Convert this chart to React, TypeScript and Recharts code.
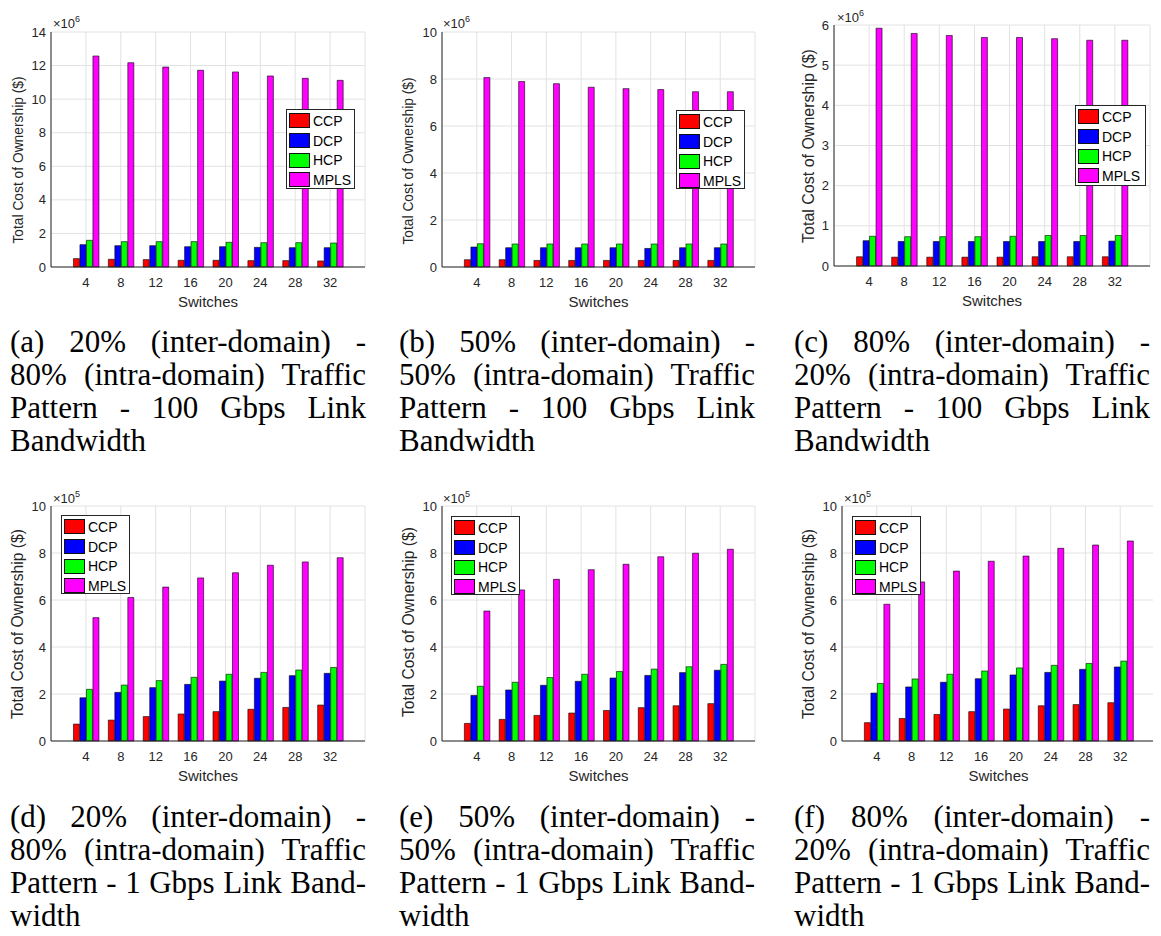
import React from 'react'
import { BarChart, Bar, XAxis, YAxis, CartesianGrid, Legend } from 'recharts'

// switches on the x axis, four placement strategies per group
const switches = ['4', '8', '12', '16', '20', '24', '28', '32']
const seriesNames = ['CCP', 'DCP', 'HCP', 'MPLS']
const seriesColors = ['#ff0000', '#0000ff', '#00ff00', '#ff00ff']

// top row, 100 Gbps, values in units of 10^6 $
const ccpA = [0.5, 0.46, 0.44, 0.4, 0.4, 0.38, 0.38, 0.36]
const dcpA = [1.33, 1.27, 1.27, 1.21, 1.21, 1.17, 1.15, 1.15]
const hcpA = [1.59, 1.51, 1.51, 1.51, 1.47, 1.45, 1.45, 1.43]
const mplsA = [12.57, 12.17, 11.91, 11.72, 11.62, 11.38, 11.24, 11.12]

const ccpB = [0.31, 0.31, 0.28, 0.28, 0.28, 0.28, 0.28, 0.28]
const dcpB = [0.85, 0.82, 0.82, 0.82, 0.82, 0.79, 0.82, 0.82]
const hcpB = [0.99, 0.98, 0.98, 0.98, 0.98, 0.98, 0.98, 0.98]
const mplsB = [8.06, 7.89, 7.8, 7.65, 7.59, 7.55, 7.46, 7.46]

const ccpC = [0.23, 0.22, 0.22, 0.22, 0.22, 0.23, 0.23, 0.23]
const dcpC = [0.63, 0.61, 0.61, 0.61, 0.61, 0.61, 0.61, 0.62]
const hcpC = [0.74, 0.73, 0.73, 0.73, 0.74, 0.76, 0.76, 0.76]
const mplsC = [5.92, 5.79, 5.74, 5.69, 5.69, 5.66, 5.62, 5.62]

// bottom row, 1 Gbps, values in units of 10^5 $
const ccpD = [0.72, 0.89, 1.04, 1.15, 1.25, 1.35, 1.43, 1.53]
const dcpD = [1.84, 2.07, 2.27, 2.41, 2.55, 2.67, 2.78, 2.88]
const hcpD = [2.2, 2.38, 2.57, 2.71, 2.84, 2.92, 3.02, 3.13]
const mplsD = [5.25, 6.11, 6.55, 6.94, 7.16, 7.48, 7.62, 7.8]

const ccpE = [0.75, 0.92, 1.09, 1.19, 1.3, 1.42, 1.5, 1.59]
const dcpE = [1.94, 2.17, 2.37, 2.54, 2.68, 2.79, 2.91, 3.01]
const hcpE = [2.33, 2.5, 2.7, 2.84, 2.96, 3.06, 3.16, 3.26]
const mplsE = [5.53, 6.43, 6.88, 7.29, 7.52, 7.84, 7.99, 8.16]

const ccpF = [0.78, 0.96, 1.13, 1.25, 1.36, 1.5, 1.55, 1.63]
const dcpF = [2.04, 2.3, 2.5, 2.65, 2.81, 2.92, 3.05, 3.15]
const hcpF = [2.45, 2.64, 2.84, 2.98, 3.11, 3.22, 3.3, 3.4]
const mplsF = [5.82, 6.77, 7.23, 7.65, 7.87, 8.2, 8.34, 8.51]

const ticks14 = [0, 2, 4, 6, 8, 10, 12, 14]
const ticks10 = [0, 2, 4, 6, 8, 10]
const ticks6 = [0, 1, 2, 3, 4, 5, 6]

const captionA = ['(a) 20% (inter-domain) -', '80% (intra-domain) Traffic', 'Pattern - 100 Gbps Link', 'Bandwidth']
const captionB = ['(b) 50% (inter-domain) -', '50% (intra-domain) Traffic', 'Pattern - 100 Gbps Link', 'Bandwidth']
const captionC = ['(c) 80% (inter-domain) -', '20% (intra-domain) Traffic', 'Pattern - 100 Gbps Link', 'Bandwidth']
const captionD = ['(d) 20% (inter-domain) -', '80% (intra-domain) Traffic', 'Pattern - 1 Gbps Link Band-', 'width']
const captionE = ['(e) 50% (inter-domain) -', '50% (intra-domain) Traffic', 'Pattern - 1 Gbps Link Band-', 'width']
const captionF = ['(f) 80% (inter-domain) -', '20% (intra-domain) Traffic', 'Pattern - 1 Gbps Link Band-', 'width']

const sans = '"Liberation Sans", Arial, Helvetica, sans-serif'
const serif = '"Liberation Serif", "Times New Roman", serif'
const ink = '#262626'

const panels = [
  { id: 'a', series: [ccpA, dcpA, hcpA, mplsA], yMax: 14, ticks: ticks14, exp: 6, caption: captionA,
    plot: { l: 51, r: 365, t: 32, b: 267 }, expAt: { x: 53, y: 17 }, ylab: { x: 19, y: 160, size: 13.8 },
    legend: { x: 286, y: 109, w: 69, h: 80 }, capX: 10, capY: 325 },
  { id: 'b', series: [ccpB, dcpB, hcpB, mplsB], yMax: 10, ticks: ticks10, exp: 6, caption: captionB,
    plot: { l: 442, r: 755, t: 32, b: 267 }, expAt: { x: 443, y: 17 }, ylab: { x: 409, y: 161, size: 13.8 },
    legend: { x: 676, y: 110, w: 69, h: 79 }, capX: 399, capY: 325 },
  { id: 'c', series: [ccpC, dcpC, hcpC, mplsC], yMax: 6, ticks: ticks6, exp: 6, caption: captionC,
    plot: { l: 834, r: 1150, t: 25, b: 266 }, expAt: { x: 837, y: 11 }, ylab: { x: 809, y: 146, size: 16 },
    legend: { x: 1075, y: 105, w: 71, h: 81 }, capX: 794, capY: 325 },
  { id: 'd', series: [ccpD, dcpD, hcpD, mplsD], yMax: 10, ticks: ticks10, exp: 5, caption: captionD,
    plot: { l: 51, r: 365, t: 506, b: 741 }, expAt: { x: 53, y: 492 }, ylab: { x: 18, y: 624, size: 15.7 },
    legend: { x: 61, y: 515, w: 69, h: 79 }, capX: 10, capY: 800 },
  { id: 'e', series: [ccpE, dcpE, hcpE, mplsE], yMax: 10, ticks: ticks10, exp: 5, caption: captionE,
    plot: { l: 442, r: 755, t: 506, b: 741 }, expAt: { x: 443, y: 492 }, ylab: { x: 409, y: 622, size: 15.7 },
    legend: { x: 451, y: 516, w: 69, h: 79 }, capX: 399, capY: 800 },
  { id: 'f', series: [ccpF, dcpF, hcpF, mplsF], yMax: 10, ticks: ticks10, exp: 5, caption: captionF,
    plot: { l: 842, r: 1155, t: 506, b: 741 }, expAt: { x: 844, y: 492 }, ylab: { x: 809, y: 624, size: 15.7 },
    legend: { x: 852, y: 516, w: 69, h: 79 }, capX: 794, capY: 800 },
]

function LegendBox({ w, h }: { w: number; h: number }) {
  return (
    <div style={{ width: w, height: h, boxSizing: 'border-box', border: `1px solid ${ink}`, background: '#fff', paddingTop: 1 }}>
      {seriesNames.map((n, k) => (
        <div key={n} style={{ height: 19.7, display: 'flex', alignItems: 'center' }}>
          <div style={{ width: 21, height: 15, marginLeft: 2, boxSizing: 'border-box', border: '1px solid #111', background: seriesColors[k] }} />
          <span style={{ marginLeft: 3, fontFamily: sans, fontSize: 14, color: '#000', lineHeight: '16px' }}>{n}</span>
        </div>
      ))}
    </div>
  )
}

function Panel({ p }: { p: any }) {
  const { l, r, t, b } = p.plot
  const plotW = r - l
  const plotH = b - t
  const chartLeft = l - 45
  const chartTop = t - 10
  const pad = plotW / 18
  const data = switches.map((s, i) => ({
    name: s,
    CCP: p.series[0][i],
    DCP: p.series[1][i],
    HCP: p.series[2][i],
    MPLS: p.series[3][i],
  }))
  const dom: [number, number] = [0, p.yMax]
  return (
    <>
      <div style={{ position: 'absolute', left: chartLeft, top: chartTop }}>
        <BarChart width={plotW + 55} height={plotH + 40} data={data}
          margin={{ top: 10, right: 10, bottom: 0, left: 15 }} barGap={0.5}>
          <CartesianGrid xAxisId="b" yAxisId="l" stroke="#e2e2e2" />
          <XAxis xAxisId="b" dataKey="name" height={30} padding={{ left: pad, right: pad }}
            tickLine={false} tickSize={0} tickMargin={11} stroke={ink}
            tick={{ fill: ink, fontSize: 13, fontFamily: sans }} />
          <XAxis xAxisId="bi" dataKey="name" height={0} padding={{ left: pad, right: pad }}
            mirror tick={false} tickSize={3} axisLine={false} stroke={ink} />
          <XAxis xAxisId="t" orientation="top" dataKey="name" height={0} padding={{ left: pad, right: pad }}
            mirror tick={false} tickSize={3} stroke={ink} />
          <YAxis yAxisId="l" type="number" domain={dom} ticks={p.ticks} width={30}
            tickLine={false} tickSize={0} tickMargin={5} stroke={ink}
            tick={{ fill: ink, fontSize: 13, fontFamily: sans }} />
          <YAxis yAxisId="li" type="number" domain={dom} ticks={p.ticks} width={0}
            mirror tick={false} tickSize={3} axisLine={false} stroke={ink} />
          <YAxis yAxisId="r" orientation="right" type="number" domain={dom} ticks={p.ticks} width={0}
            mirror tick={false} tickSize={3} stroke={ink} />
          {seriesNames.map((n, k) => (
            <Bar key={n} xAxisId="b" yAxisId="l" dataKey={n} name={n} fill={seriesColors[k]}
              stroke="#000" strokeWidth={0.6} barSize={6} isAnimationActive={false} />
          ))}
          <Legend layout="vertical" align="center" verticalAlign="middle"
            wrapperStyle={{ left: p.legend.x - chartLeft, top: p.legend.y - chartTop, width: p.legend.w, height: p.legend.h }}
            content={() => <LegendBox w={p.legend.w} h={p.legend.h} />} />
        </BarChart>
      </div>
      <div style={{ position: 'absolute', left: p.expAt.x, top: p.expAt.y, fontFamily: sans, fontSize: 13, color: ink, whiteSpace: 'nowrap', lineHeight: '13px' }}>
        ×10<span style={{ fontSize: 9, position: 'relative', top: -6 }}>{p.exp}</span>
      </div>
      <div style={{ position: 'absolute', left: p.ylab.x - 150, top: p.ylab.y - 10, width: 300, height: 20, lineHeight: '20px',
        textAlign: 'center', transform: 'rotate(-90deg)', fontFamily: sans, fontSize: p.ylab.size, color: ink, whiteSpace: 'nowrap' }}>
        Total Cost of Ownership ($)
      </div>
      <div style={{ position: 'absolute', left: (l + r) / 2 - 60, top: b + 26, width: 120, height: 18, lineHeight: '18px',
        textAlign: 'center', fontFamily: sans, fontSize: 15, color: ink }}>
        Switches
      </div>
      <div style={{ position: 'absolute', left: p.capX, top: p.capY, width: 356, fontFamily: serif, fontSize: 31, lineHeight: '33px', color: '#000' }}>
        {p.caption.map((line: string, i: number) => (
          <div key={i} style={{ textAlign: 'justify', textAlignLast: i < p.caption.length - 1 ? 'justify' : 'left', whiteSpace: 'nowrap' }}>
            {line}
          </div>
        ))}
      </div>
    </>
  )
}

export default function App() {
  return (
    <div style={{ position: 'relative', width: 1161, height: 936, margin: -8, background: '#fff', overflow: 'hidden' }}>
      {panels.map((p) => (
        <Panel key={p.id} p={p} />
      ))}
    </div>
  )
}
